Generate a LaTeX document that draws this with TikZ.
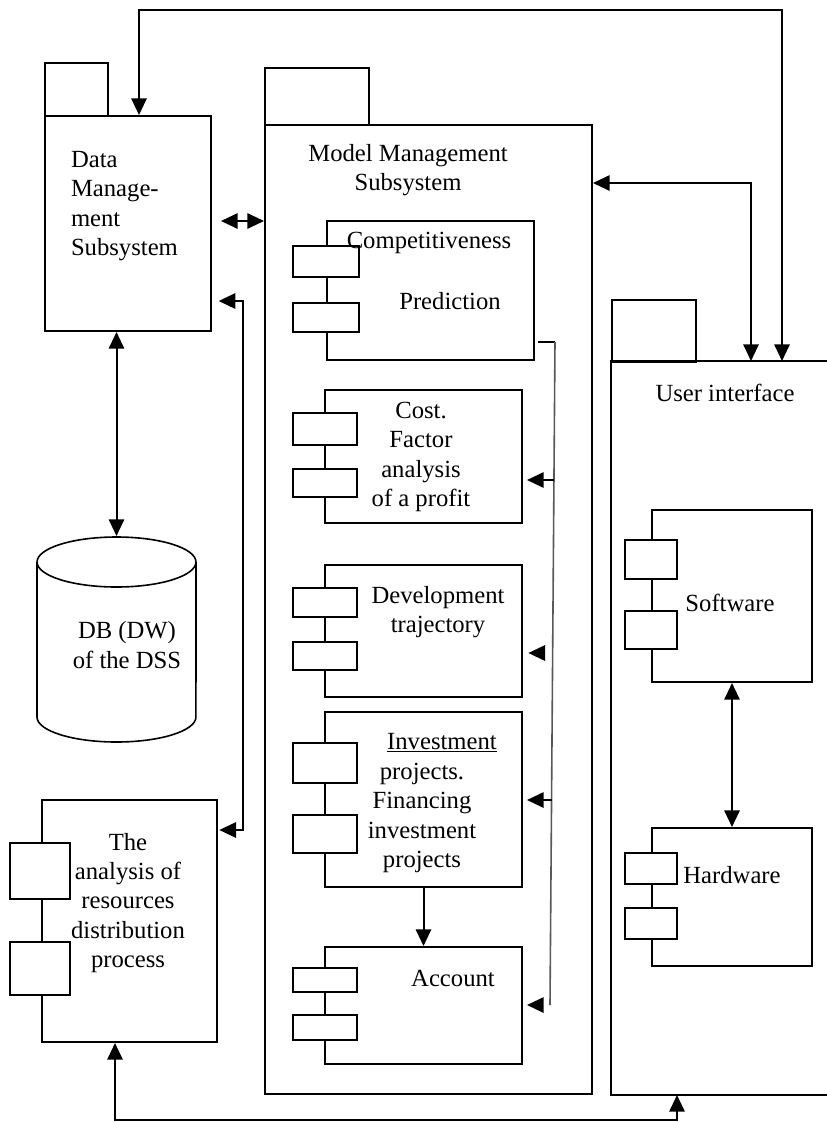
\documentclass[tikz,border=0pt]{standalone}
\usepackage{fontspec}
\setmainfont{Liberation Serif}
\usetikzlibrary{arrows.meta,fit}
\begin{document}
\begin{tikzpicture}[x=0.75pt,y=-0.75pt,
  line width=1.5pt,
  >={Triangle[length=12.5pt,width=11.5pt]},
  bx/.style={draw, inner sep=0pt, fill=white},
  ghost/.style={inner sep=0pt},
  lbl/.style={font=\fontsize{18.5}{22}\selectfont, inner sep=0pt, align=center},
  feed/.style={line width=1.2pt, black!65},
]
\path[use as bounding box, fill=white] (0,0) rectangle (826,1122);

% Data management subsystem
\node[bx, fit={(45,63)(108,116)}] (dmtab) {};
\node[bx, fit={(45,116)(211,331)}] (dm) {};
\node[lbl, align=left, anchor=west] (dmtxt) at (70,206) {Data\\Manage-\\ment\\Subsystem};

% Model management subsystem
\node[bx, fit={(265,68)(369,125)}] (mmtab) {};
\node[bx, fit={(265,125)(592,1094)}] (mm) {};
\node[lbl] (mmtxt) at (408,170) {Model Management\\Subsystem};

% Competitiveness
\node[bx, fit={(327,221)(534,360)}] (comp) {};
\node[bx, fit={(293,246)(359,277)}] (compa) {};
\node[bx, fit={(293,303)(359,332)}] (compb) {};
\node[lbl] (comptxt1) at (429,243) {Competitiveness};
\node[lbl] (comptxt2) at (450,301) {Prediction};

% Cost
\node[bx, fit={(325,390)(522,523)}] (cost) {};
\node[bx, fit={(293,413)(357,445)}] (costa) {};
\node[bx, fit={(293,469)(357,497)}] (costb) {};
\node[lbl] (costtxt) at (421,457) {Cost.\\Factor\\analysis\\of a profit};

% Development
\node[bx, fit={(325,565)(522,697)}] (dev) {};
\node[bx, fit={(293,588)(357,617)}] (deva) {};
\node[bx, fit={(293,642)(357,670)}] (devb) {};
\node[lbl] (devtxt) at (438,612) {Development\\trajectory};

% Investment
\node[bx, fit={(325,712)(522,887)}] (inv) {};
\node[bx, fit={(293,743)(357,783)}] (inva) {};
\node[bx, fit={(293,815)(357,853)}] (invb) {};
\node[lbl] (invtxt1) at (442,743) {\underline{Investment}};
\node[lbl] (invtxt2) at (422,818) {projects.\\Financing\\investment\\projects};

% Account
\node[bx, fit={(325,947)(522,1064)}] (acc) {};
\node[bx, fit={(293,968)(357,992)}] (acca) {};
\node[bx, fit={(293,1015)(357,1040)}] (accb) {};
\node[lbl] (acctxt) at (453,978) {Account};

% Analysis of resources
\node[bx, fit={(42,800)(217,1042)}] (an) {};
\node[bx, fit={(10,843)(70,899)}] (ana) {};
\node[bx, fit={(10,942)(70,995)}] (anb) {};
\node[lbl] (antxt) at (128,903) {The\\analysis of\\resources\\distribution\\process};

% Database cylinder
\node[ghost, fit={(37,537)(196,742)}] (db) {};
\draw[line width=1.2pt] (37,562) -- (37,717) arc[start angle=180, end angle=360, x radius=59.6pt, y radius=18.75pt] -- (196,562);
\draw[line width=1.2pt] (116.5,562) ellipse [x radius=59.6pt, y radius=18.75pt];
\node[lbl] (dbtxt) at (127,645) {DB (DW)\\of the DSS};

% User interface
\node[ghost, fit={(612,362)(826,1094)}] (ui) {};
\node[bx, fit={(612,300)(696,362)}] (uitab) {};
\draw (ui.north east) -- (ui.north west) -- (ui.south west) -- (ui.south east);
\node[lbl] (uitxt) at (725,393) {User interface};

% Software
\node[bx, fit={(652,510)(812,682)}] (sw) {};
\node[bx, fit={(625,540)(677,579)}] (swa) {};
\node[bx, fit={(625,611)(677,649)}] (swb) {};
\node[lbl] (swtxt) at (730,603) {Software};

% Hardware
\node[bx, fit={(652,828)(812,966)}] (hw) {};
\node[bx, fit={(625,853)(677,884)}] (hwa) {};
\node[bx, fit={(625,908)(677,939)}] (hwb) {};
\node[lbl] (hwtxt) at (732,875) {Hardware};

% Connectors
\coordinate (t1) at (139,10);
\coordinate (t2) at (782,10);
\draw[<->] (t1 |- dm.north) -- (t1) -- (t2) -- (t2 |- ui.north);

\coordinate (m1) at (751,183);
\draw[<->] (mm.east |- m1) -- (m1) -- (m1 |- ui.north);

\coordinate (d1) at (221,221);
\draw[<->] (d1) -- (d1 -| mm.west);

\coordinate (r1) at (243,301);
\coordinate (r2) at (243,830);
\draw[<->, shorten <=5pt, shorten >=1pt] (dm.east |- r1) -- (r1) -- (r2) -- (an.east |- r2);

\draw[<->] (db.north |- dm.south) -- (db.north);

\coordinate (b1) at (115,1120);
\coordinate (b2) at (677,1120);
\draw[<->] (b1 |- an.south) -- (b1) -- (b2) -- (b2 |- ui.south);

\draw[<->] (sw.south) -- (hw.north);
\draw[->] (inv.south) -- (acc.north);

% feed line from Competitiveness
\coordinate (f0) at (538,342);
\coordinate (f1) at (555,342);
\coordinate (f2) at (550,1005);
\draw[line width=1.2pt] (f0) -- (f1);
\draw[feed] (f1) -- (f2);

\coordinate (g1) at (554,480);
\draw[->, shorten >=3pt] (g1) -- (cost.east |- g1);
\coordinate (g2) at (552,800);
\draw[->, shorten >=3pt] (g2) -- (inv.east |- g2);
\coordinate (g3) at (542,653);
\draw[->, shorten >=4pt] (g3) -- (dev.east |- g3);
\coordinate (g4) at (541,1005);
\draw[->, shorten >=3pt] (g4) -- (acc.east |- g4);
\end{tikzpicture}
\end{document}
